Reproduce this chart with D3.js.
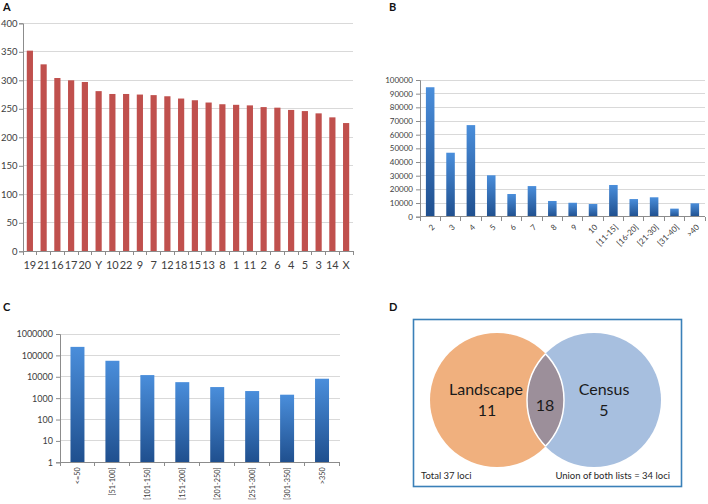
<!DOCTYPE html>
<html><head><meta charset="utf-8">
<script src="https://cdn.jsdelivr.net/npm/d3@7"></script>
<style>
html,body{margin:0;padding:0;background:#fff;}
svg{display:block;}
text{font-family:Lato,"Liberation Sans",sans-serif;}
</style></head>
<body>
<svg id="fig" width="708" height="504"></svg>
<script>
// ---------- DATA ----------
// Panel A
const chromosomesA = ["19","21","16","17","20","Y","10","22","9","7","12","18","15","13","8","1","11","2","6","4","5","3","14","X"];
const valuesA = [352,328,304,300,297,281,276,276,275,274,272,268,265,261,258,257,256,253,252,248,246,242,235,225];
const ticksA = [0,50,100,150,200,250,300,350,400];
// Panel B
const categoriesB = ["2","3","4","5","6","7","8","9","10","[11-15]","[16-20]","[21-30]","[31-40]",">40"];
const valuesB = [94700,46800,67000,30300,16600,22400,11500,10200,9300,23200,12900,14200,5900,9800];
const ticksB = [0,10000,20000,30000,40000,50000,60000,70000,80000,90000,100000];
// Panel C
const categoriesC = ["<=50","[51-100]","[101-150]","[151-200]","[201-250]","[251-300]","[301-350]",">350"];
const valuesC = [250000,56000,12000,5600,3300,2150,1450,8100];
const ticksC = [1,10,100,1000,10000,100000,1000000];
// Panel D
const vennNames = ["Landscape","Census"];
const vennOnly = [11,5];
const vennOverlap = 18;
const vennFooter = ["Total 37 loci","Union of both lists = 34 loci"];

// ---------- DRAW ----------
const svg = d3.select("#fig");
const gridCol = "#d9d9d9", axisCol = "#8c8c8c", tickTxt = "#404040";

const defs = svg.append("defs");
const grad = defs.append("linearGradient").attr("id","blueGrad").attr("x1",0).attr("y1",0).attr("x2",0).attr("y2",1);
grad.append("stop").attr("offset","0%").attr("stop-color","#4a8edb");
grad.append("stop").attr("offset","100%").attr("stop-color","#1f4f8e");

function panelTitle(txt,x,y){
  svg.append("text").attr("x",x).attr("y",y).text(txt)
    .attr("font-family","'Liberation Sans',Arial,sans-serif").attr("font-weight","bold")
    .attr("font-size",11).attr("fill","#111");
}

function barPanel(opt){
  const g = svg.append("g");
  const x = d3.scaleBand().domain(opt.cats).range([opt.x0,opt.x1]).paddingInner(opt.pad).paddingOuter(opt.pad/2);
  const y = opt.yScale;
  g.selectAll("line.grid").data(opt.ticks.slice(1)).join("line")
    .attr("x1",opt.x0).attr("x2",opt.x1).attr("y1",d=>y(d)).attr("y2",d=>y(d))
    .attr("stroke",gridCol).attr("stroke-width",1).attr("shape-rendering","crispEdges");
  g.selectAll("rect").data(opt.vals).join("rect")
    .attr("x",(d,i)=>x(opt.cats[i])).attr("width",x.bandwidth())
    .attr("y",d=>y(d)).attr("height",d=>y(opt.base)-y(d))
    .attr("fill",opt.fill);
  const ya = d3.axisLeft(y).tickValues(opt.ticks).tickSize(4).tickPadding(opt.tpad).tickFormat(d=>String(d));
  const yg = g.append("g").attr("transform",`translate(${opt.x0},0)`).call(ya);
  yg.select(".domain").attr("stroke",axisCol);
  yg.selectAll(".tick line").attr("stroke",axisCol);
  yg.selectAll(".tick text").attr("fill",tickTxt).attr("font-size",opt.yfs)
    .attr("font-family","Lato,'Liberation Sans',sans-serif");
  const yb = y(opt.base);
  g.append("line").attr("x1",opt.x0).attr("x2",opt.x1).attr("y1",yb).attr("y2",yb)
    .attr("stroke",axisCol).attr("shape-rendering","crispEdges");
  const step = x.step();
  const bounds = d3.range(opt.cats.length+1).map(i=>opt.x0+i*step);
  g.selectAll("line.xt").data(bounds).join("line").attr("class","xt")
    .attr("x1",d=>d).attr("x2",d=>d).attr("y1",yb).attr("y2",yb+4)
    .attr("stroke",axisCol).attr("shape-rendering","crispEdges");
  const lbl = g.selectAll("text.xl").data(opt.cats).join("text").attr("class","xl")
    .text(d=>d).attr("fill",tickTxt).attr("font-size",opt.xfs);
  if(opt.rot===0){
    lbl.attr("x",d=>x(d)+x.bandwidth()/2).attr("y",yb+opt.xoff).attr("text-anchor","middle");
  } else if(opt.rot===-45){
    lbl.attr("text-anchor","end").attr("dy","0.35em")
      .attr("transform",d=>`translate(${x(d)+x.bandwidth()/2+3},${yb+opt.xoff}) rotate(-45)`);
  } else {
    lbl.attr("text-anchor","end").attr("dy","0.35em")
      .attr("transform",d=>`translate(${x(d)+x.bandwidth()/2},${yb+opt.xoff}) rotate(-90)`);
  }
}

// Panel A
panelTitle("A",3,11);
barPanel({cats:chromosomesA, vals:valuesA, ticks:ticksA, x0:23, x1:353, pad:0.55,
  yScale:d3.scaleLinear().domain([0,400]).range([251.3,23.3]), base:0,
  fill:"#c0504d", yfs:9.5, xfs:11, rot:0, xoff:18, tpad:1.5});

// Panel B
panelTitle("B",389,11);
barPanel({cats:categoriesB, vals:valuesB, ticks:ticksB, x0:420, x1:705, pad:0.58,
  yScale:d3.scaleLinear().domain([0,100000]).range([216.7,80]), base:0,
  fill:"url(#blueGrad)", yfs:8, xfs:8, rot:-45, xoff:9, tpad:3});

// Panel C
panelTitle("C",3,311);
barPanel({cats:categoriesC, vals:valuesC, ticks:ticksC, x0:60, x1:339.5, pad:0.6,
  yScale:d3.scaleLog().domain([1,1000000]).range([462.3,334]), base:1,
  fill:"url(#blueGrad)", yfs:9, xfs:7.3, rot:-90, xoff:5, tpad:3});

// Panel D (Venn)
panelTitle("D",389,311);
const gD = svg.append("g");
gD.append("rect").attr("x",413.5).attr("y",319.5).attr("width",268).attr("height",167)
  .attr("fill","#fff").attr("stroke","#3a80b8").attr("stroke-width",1.6);
const circles = [{cx:497, cy:400, r:67, fill:"#f0b07e"},{cx:594, cy:400, r:67, fill:"#a7bfdf"}];
gD.selectAll("circle.set").data(circles).join("circle").attr("class","set")
  .attr("cx",d=>d.cx).attr("cy",d=>d.cy).attr("r",d=>d.r).attr("fill",d=>d.fill);
defs.append("clipPath").attr("id","clipL").append("circle")
  .attr("cx",circles[0].cx).attr("cy",circles[0].cy).attr("r",circles[0].r);
defs.append("clipPath").attr("id","clipR").append("circle")
  .attr("cx",circles[1].cx).attr("cy",circles[1].cy).attr("r",circles[1].r);
gD.append("circle").attr("cx",circles[1].cx).attr("cy",circles[1].cy).attr("r",circles[1].r)
  .attr("clip-path","url(#clipL)").attr("fill","#9c8f9a");
gD.append("circle").attr("cx",circles[1].cx).attr("cy",circles[1].cy).attr("r",circles[1].r)
  .attr("clip-path","url(#clipL)").attr("fill","none").attr("stroke","#fff").attr("stroke-width",1.5);
gD.append("circle").attr("cx",circles[0].cx).attr("cy",circles[0].cy).attr("r",circles[0].r)
  .attr("clip-path","url(#clipR)").attr("fill","none").attr("stroke","#fff").attr("stroke-width",1.5);

const vt = gD.append("g").attr("font-family","Lato,'Open Sans',sans-serif").attr("font-size",16).attr("fill","#1a1a1a").attr("text-anchor","middle");
vt.append("text").attr("x",486).attr("y",395).text(vennNames[0]);
vt.append("text").attr("x",487).attr("y",416).text(vennOnly[0]);
vt.append("text").attr("x",604).attr("y",395).text(vennNames[1]);
vt.append("text").attr("x",604).attr("y",416).text(vennOnly[1]);
vt.append("text").attr("x",545).attr("y",411).text(vennOverlap);
gD.append("text").attr("x",421).attr("y",479).attr("font-size",9.5).attr("fill","#262626").text(vennFooter[0]);
gD.append("text").attr("x",670).attr("y",479).attr("font-size",9.5).attr("fill","#262626").attr("text-anchor","end").text(vennFooter[1]);
</script>
</body></html>
